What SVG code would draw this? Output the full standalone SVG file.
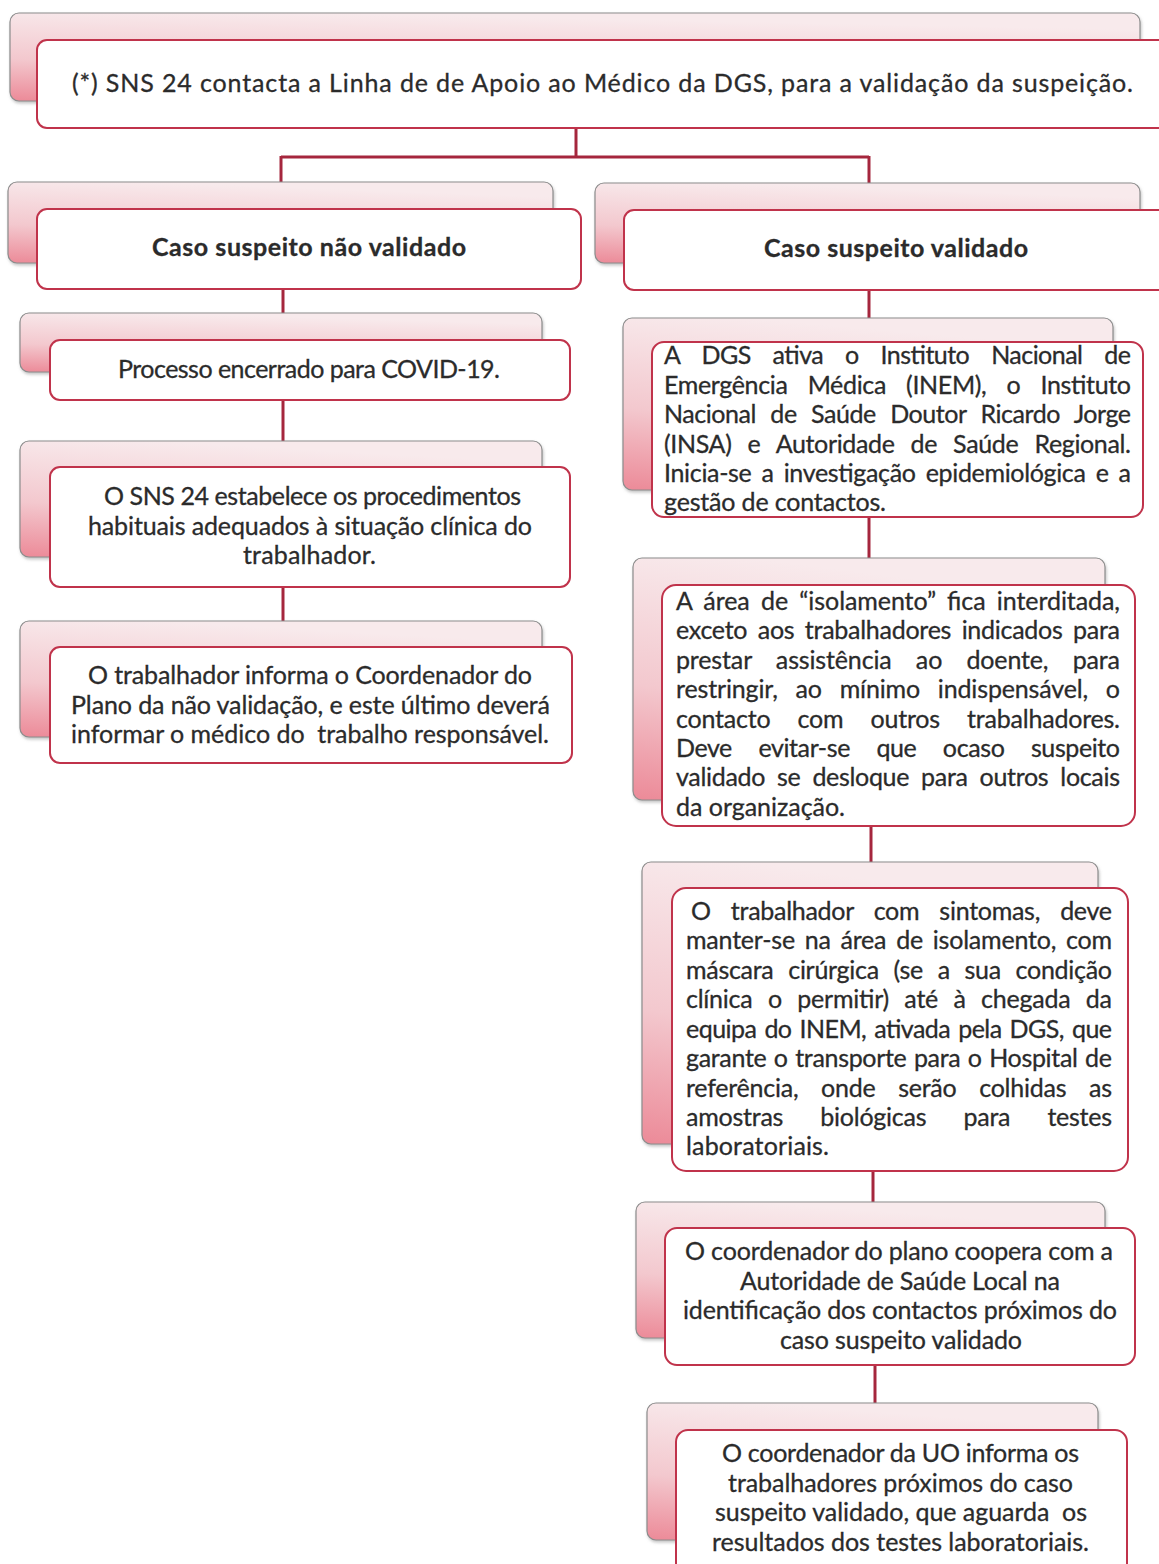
<svg xmlns="http://www.w3.org/2000/svg" width="1159" height="1564" viewBox="0 0 1159 1564">
<defs>
<linearGradient id="pink" x1="0" y1="1" x2="0.25" y2="0">
<stop offset="0" stop-color="#ec8a98"/>
<stop offset="0.45" stop-color="#f3c8ce"/>
<stop offset="1" stop-color="#f8eaec"/>
</linearGradient>
<filter id="sh" x="-5%" y="-10%" width="110%" height="130%">
<feDropShadow dx="1" dy="2" stdDeviation="1.5" flood-color="#888" flood-opacity="0.5"/>
</filter>
<style>
.back{fill:url(#pink);stroke:#8c8c8c;stroke-width:1.2;filter:url(#sh)}
.front{fill:#fff;stroke:#c0334b;stroke-width:2}
.t{font-family:Lato,"Liberation Sans",sans-serif;font-size:25px;fill:#2b2b2b;stroke:#2b2b2b;stroke-width:0.3}
.b{font-weight:bold}
.pre{white-space:pre}
.con line{stroke:#a5263d;stroke-width:3;fill:none}
</style>
</defs>
<rect width="1159" height="1564" fill="#ffffff"/>

<g id="connectors" class="con">
<line x1="576" y1="128" x2="576" y2="158"/>
<line x1="281" y1="157" x2="869" y2="157"/>
<line x1="281" y1="156" x2="281" y2="209"/>
<line x1="869" y1="156" x2="869" y2="210"/>
<line x1="283" y1="289" x2="283" y2="340"/>
<line x1="283" y1="400" x2="283" y2="467"/>
<line x1="283" y1="587" x2="283" y2="647"/>
<line x1="869" y1="290" x2="869" y2="342"/>
<line x1="869" y1="517" x2="869" y2="585"/>
<line x1="871" y1="826" x2="871" y2="888"/>
<line x1="873" y1="1171" x2="873" y2="1228"/>
<line x1="875" y1="1365" x2="875" y2="1430"/>
</g>

<g id="n-top">
<rect class="back" x="10" y="13" width="1130" height="88" rx="9"/>
<rect class="front" x="37" y="40" width="1140" height="88" rx="10"/>
<text class="t" x="72" y="92" textLength="1061" lengthAdjust="spacing">(*) SNS 24 contacta a Linha de de Apoio ao Médico da DGS, para a validação da suspeição.</text>
</g>

<g id="n-nao-validado">
<rect class="back" x="8" y="182" width="545" height="81" rx="9"/>
<rect class="front" x="37" y="209" width="544" height="80" rx="10"/>
<text class="t b" x="152" y="256" textLength="314" lengthAdjust="spacing">Caso suspeito não validado</text>
</g>

<g id="n-validado">
<rect class="back" x="595" y="183" width="545" height="80" rx="9"/>
<rect class="front" x="624" y="210" width="560" height="80" rx="10"/>
<text class="t b" x="764" y="257" textLength="264" lengthAdjust="spacing">Caso suspeito validado</text>
</g>

<g id="n-encerrado">
<rect class="back" x="20" y="313" width="522" height="59" rx="9"/>
<rect class="front" x="50" y="340" width="520" height="60" rx="10"/>
<text class="t" x="118" y="378" textLength="382" lengthAdjust="spacing">Processo encerrado para COVID-19.</text>
</g>

<g id="n-sns24">
<rect class="back" x="20" y="441" width="522" height="116" rx="9"/>
<rect class="front" x="50" y="467" width="520" height="120" rx="10"/>
<text class="t" x="104" y="505" textLength="417" lengthAdjust="spacing">O SNS 24 estabelece os procedimentos</text>
<text class="t" x="88" y="535" textLength="444" lengthAdjust="spacing">habituais adequados à situação clínica do</text>
<text class="t" x="243" y="564" textLength="133" lengthAdjust="spacing">trabalhador.</text>
</g>

<g id="n-informa">
<rect class="back" x="20" y="621" width="522" height="116" rx="9"/>
<rect class="front" x="50" y="647" width="522" height="116" rx="10"/>
<text class="t" x="88" y="684" textLength="444" lengthAdjust="spacing">O trabalhador informa o Coordenador do</text>
<text class="t" x="71" y="714" textLength="479" lengthAdjust="spacing">Plano da não validação, e este último deverá</text>
<text class="t pre" x="71" y="743" textLength="478" lengthAdjust="spacing">informar o médico do  trabalho responsável.</text>
</g>

<g id="n-dgs">
<rect class="back" x="623" y="318" width="490" height="172" rx="9"/>
<rect class="front" x="652" y="342" width="491" height="175" rx="12"/>
<text class="t" x="664" y="364" textLength="467" lengthAdjust="spacing" word-spacing="16">A DGS ativa o Instituto Nacional de</text>
<text class="t" x="664" y="394" textLength="467" lengthAdjust="spacing" word-spacing="14">Emergência Médica (INEM), o Instituto</text>
<text class="t" x="664" y="423" textLength="467" lengthAdjust="spacing" word-spacing="8.5">Nacional de Saúde Doutor Ricardo Jorge</text>
<text class="t" x="664" y="453" textLength="467" lengthAdjust="spacing" word-spacing="10">(INSA) e Autoridade de Saúde Regional.</text>
<text class="t" x="664" y="482" textLength="467" lengthAdjust="spacing" word-spacing="4">Inicia-se a investigação epidemiológica e a</text>
<text class="t" x="664" y="511" textLength="222" lengthAdjust="spacing">gestão de contactos.</text>
</g>

<g id="n-isolamento">
<rect class="back" x="633" y="558" width="472" height="242" rx="9"/>
<rect class="front" x="662" y="585" width="473" height="241" rx="14"/>
<text class="t" x="676" y="610" textLength="444" lengthAdjust="spacing" word-spacing="5">A área de “isolamento” fica interditada,</text>
<text class="t" x="676" y="639" textLength="444" lengthAdjust="spacing" word-spacing="4.4">exceto aos trabalhadores indicados para</text>
<text class="t" x="676" y="669" textLength="444" lengthAdjust="spacing" word-spacing="18">prestar assistência ao doente, para</text>
<text class="t" x="676" y="698" textLength="444" lengthAdjust="spacing" word-spacing="11.5">restringir, ao mínimo indispensável, o</text>
<text class="t" x="676" y="728" textLength="444" lengthAdjust="spacing" word-spacing="21">contacto com outros trabalhadores.</text>
<text class="t" x="676" y="757" textLength="444" lengthAdjust="spacing" word-spacing="20.5">Deve evitar-se que ocaso suspeito</text>
<text class="t" x="676" y="786" textLength="444" lengthAdjust="spacing" word-spacing="5.9">validado se desloque para outros locais</text>
<text class="t" x="676" y="816" textLength="169" lengthAdjust="spacing">da organização.</text>
</g>

<g id="n-sintomas">
<rect class="back" x="642" y="862" width="456" height="282" rx="9"/>
<rect class="front" x="672" y="888" width="456" height="283" rx="14"/>
<text class="t" x="691" y="920" textLength="421" lengthAdjust="spacing" word-spacing="14">O trabalhador com sintomas, deve</text>
<text class="t" x="686" y="949" textLength="426" lengthAdjust="spacing" word-spacing="3.6">manter-se na área de isolamento, com</text>
<text class="t" x="686" y="979" textLength="426" lengthAdjust="spacing" word-spacing="8.6">máscara cirúrgica (se a sua condição</text>
<text class="t" x="686" y="1008" textLength="426" lengthAdjust="spacing" word-spacing="9.3">clínica o permitir) até à chegada da</text>
<text class="t" x="686" y="1038" textLength="426" lengthAdjust="spacing" word-spacing="2.1">equipa do INEM, ativada pela DGS, que</text>
<text class="t" x="686" y="1067" textLength="426" lengthAdjust="spacing" word-spacing="1.4">garante o transporte para o Hospital de</text>
<text class="t" x="686" y="1097" textLength="426" lengthAdjust="spacing" word-spacing="16.5">referência, onde serão colhidas as</text>
<text class="t" x="686" y="1126" textLength="426" lengthAdjust="spacing" word-spacing="31">amostras biológicas para testes</text>
<text class="t" x="686" y="1155" textLength="143" lengthAdjust="spacing">laboratoriais.</text>
</g>

<g id="n-coordenador-plano">
<rect class="back" x="636" y="1202" width="469" height="136" rx="9"/>
<rect class="front" x="665" y="1228" width="470" height="137" rx="12"/>
<text class="t" x="685" y="1260" textLength="428" lengthAdjust="spacing">O coordenador do plano coopera com a</text>
<text class="t" x="740" y="1290" textLength="320" lengthAdjust="spacing">Autoridade de Saúde Local na</text>
<text class="t" x="683" y="1319" textLength="434" lengthAdjust="spacing">identificação dos contactos próximos do</text>
<text class="t" x="780" y="1349" textLength="242" lengthAdjust="spacing">caso suspeito validado</text>
</g>

<g id="n-coordenador-uo">
<rect class="back" x="647" y="1403" width="451" height="137" rx="9"/>
<rect class="front" x="676" y="1430" width="451" height="145" rx="12"/>
<text class="t" x="722" y="1462" textLength="357" lengthAdjust="spacing">O coordenador da UO informa os</text>
<text class="t" x="728" y="1492" textLength="345" lengthAdjust="spacing">trabalhadores próximos do caso</text>
<text class="t pre" x="715" y="1521" textLength="372" lengthAdjust="spacing">suspeito validado, que aguarda  os</text>
<text class="t" x="712" y="1551" textLength="377" lengthAdjust="spacing">resultados dos testes laboratoriais.</text>
</g>
</svg>
